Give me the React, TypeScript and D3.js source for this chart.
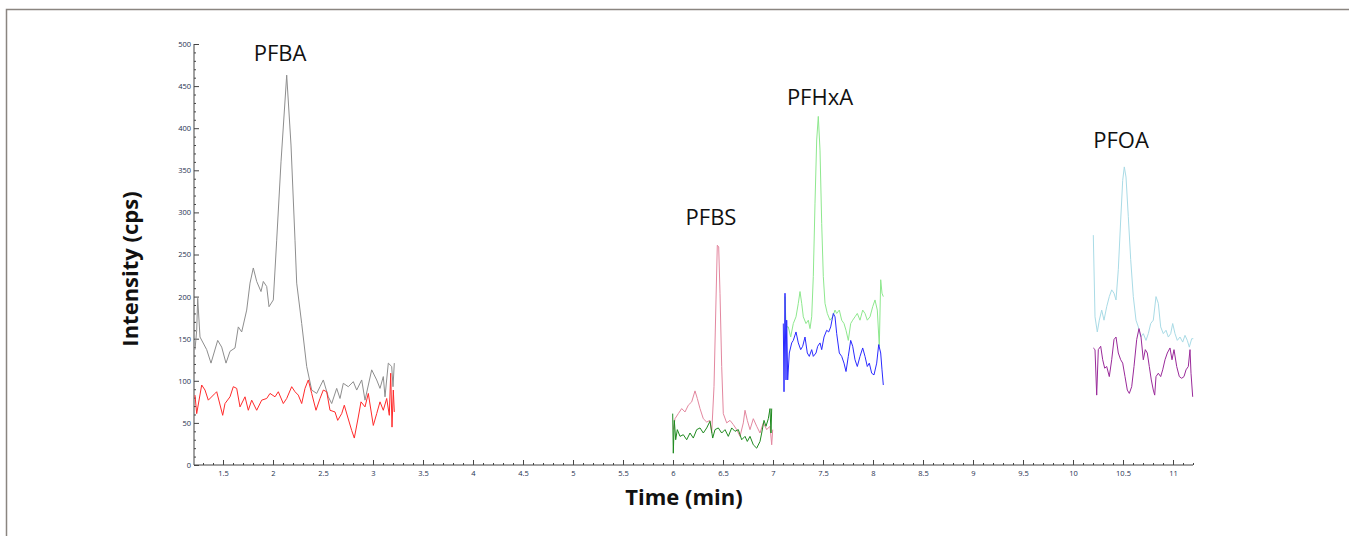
import React, { useEffect, useRef } from 'react';
import * as d3 from 'd3';

// [time (min), intensity (cps)]
const pfbaQuant: [number, number][] = [
  [1.22, 137], [1.237, 160], [1.247, 198], [1.27, 152], [1.337, 137], [1.38, 121], [1.447, 148],
  [1.487, 140], [1.53, 121], [1.57, 135], [1.62, 139], [1.653, 164], [1.687, 158], [1.737, 184],
  [1.77, 216], [1.803, 234], [1.837, 218], [1.88, 206], [1.903, 218], [1.937, 212], [1.96, 188],
  [2.003, 196], [2.037, 267], [2.08, 360], [2.137, 463], [2.18, 380], [2.22, 267], [2.237, 216],
  [2.287, 168], [2.337, 117], [2.387, 89], [2.437, 85], [2.47, 93], [2.503, 101], [2.553, 81],
  [2.587, 73], [2.637, 91], [2.67, 79], [2.703, 97], [2.753, 93], [2.803, 99], [2.837, 89],
  [2.887, 101], [2.92, 77], [2.987, 113], [3.037, 101], [3.07, 91], [3.103, 105], [3.12, 81],
  [3.153, 121], [3.187, 117], [3.2, 93], [3.213, 121],
];
const pfbaQual: [number, number][] = [
  [1.22, 83], [1.237, 61], [1.287, 95], [1.32, 89], [1.353, 77], [1.42, 85], [1.437, 87],
  [1.497, 59], [1.52, 73], [1.57, 81], [1.603, 93], [1.637, 91], [1.67, 69], [1.72, 81],
  [1.753, 65], [1.787, 77], [1.837, 65], [1.887, 77], [1.937, 79], [1.97, 85], [2.02, 81],
  [2.053, 87], [2.103, 73], [2.137, 79], [2.187, 93], [2.22, 87], [2.253, 83], [2.287, 73],
  [2.32, 91], [2.353, 101], [2.387, 85], [2.43, 65], [2.47, 79], [2.503, 89], [2.537, 87],
  [2.57, 65], [2.62, 63], [2.647, 53], [2.687, 61], [2.713, 71], [2.747, 57], [2.787, 41],
  [2.813, 32], [2.853, 57], [2.88, 75], [2.92, 69], [2.953, 85], [3.003, 47], [3.037, 61],
  [3.07, 75], [3.103, 65], [3.137, 79], [3.163, 59], [3.177, 109], [3.19, 45], [3.203, 89],
  [3.213, 63],
];
const pfbsQuant: [number, number][] = [
  [6.003, 42], [6.02, 55], [6.053, 61], [6.087, 67], [6.12, 63], [6.153, 71], [6.187, 75],
  [6.22, 88], [6.243, 79], [6.27, 67], [6.303, 55], [6.337, 51], [6.37, 53], [6.387, 38],
  [6.41, 93], [6.43, 196], [6.443, 261], [6.457, 259], [6.47, 204], [6.487, 117], [6.503, 61],
  [6.537, 50], [6.57, 53], [6.603, 48], [6.637, 42], [6.67, 34], [6.703, 50], [6.72, 65],
  [6.743, 53], [6.77, 42], [6.803, 55], [6.837, 46], [6.87, 38], [6.903, 50], [6.937, 42],
  [6.97, 46], [6.987, 24], [6.997, 42],
];
const pfbsQual: [number, number][] = [
  [5.997, 61], [6.003, 14], [6.013, 53], [6.027, 30], [6.043, 42], [6.07, 34], [6.103, 36],
  [6.137, 30], [6.17, 38], [6.203, 32], [6.237, 42], [6.27, 44], [6.303, 38], [6.337, 44],
  [6.37, 52], [6.397, 32], [6.42, 42], [6.453, 44], [6.487, 38], [6.52, 42], [6.553, 34],
  [6.587, 44], [6.62, 40], [6.653, 42], [6.687, 30], [6.72, 34], [6.743, 28], [6.77, 34],
  [6.803, 24], [6.837, 20], [6.87, 28], [6.887, 38], [6.91, 53], [6.93, 46], [6.953, 55],
  [6.97, 67], [6.98, 38], [6.987, 67],
];
const pfhxaQuant: [number, number][] = [
  [7.12, 200], [7.13, 164], [7.153, 164], [7.177, 152], [7.203, 168], [7.23, 176], [7.253, 192],
  [7.27, 206], [7.287, 192], [7.303, 176], [7.33, 168], [7.353, 172], [7.37, 162], [7.387, 176],
  [7.403, 224], [7.42, 311], [7.437, 386], [7.453, 414], [7.47, 374], [7.487, 287], [7.503, 224],
  [7.52, 192], [7.543, 180], [7.57, 172], [7.597, 176], [7.62, 184], [7.637, 180], [7.663, 184],
  [7.687, 172], [7.71, 168], [7.73, 160], [7.753, 148], [7.777, 168], [7.797, 172], [7.82, 176],
  [7.843, 180], [7.87, 172], [7.897, 184], [7.92, 180], [7.943, 172], [7.97, 176], [7.997, 188],
  [8.02, 196], [8.043, 184], [8.063, 141], [8.077, 220], [8.09, 204], [8.103, 200],
];
const pfhxaQual: [number, number][] = [
  [7.103, 168], [7.11, 87], [7.12, 204], [7.13, 101], [7.137, 172], [7.147, 101], [7.163, 133],
  [7.187, 145], [7.203, 148], [7.23, 158], [7.253, 145], [7.277, 137], [7.297, 141], [7.32, 152],
  [7.343, 133], [7.363, 129], [7.387, 137], [7.403, 129], [7.43, 133], [7.447, 141], [7.47, 145],
  [7.487, 137], [7.51, 152], [7.537, 160], [7.557, 158], [7.577, 164], [7.603, 180], [7.62, 176],
  [7.637, 156], [7.663, 133], [7.687, 129], [7.71, 121], [7.73, 111], [7.753, 129], [7.777, 148],
  [7.797, 141], [7.82, 125], [7.843, 117], [7.87, 129], [7.897, 139], [7.92, 129], [7.943, 117],
  [7.963, 121], [7.987, 109], [8.01, 107], [8.037, 121], [8.057, 143], [8.077, 133], [8.09, 113],
  [8.103, 95],
];
const pfoaQuant: [number, number][] = [
  [10.203, 273], [10.22, 176], [10.243, 158], [10.263, 172], [10.287, 184], [10.31, 172],
  [10.337, 188], [10.363, 200], [10.387, 208], [10.41, 204], [10.43, 196], [10.453, 232],
  [10.477, 291], [10.497, 338], [10.513, 354], [10.53, 342], [10.553, 295], [10.577, 244],
  [10.603, 200], [10.63, 172], [10.653, 164], [10.677, 152], [10.703, 156], [10.73, 148],
  [10.753, 156], [10.777, 168], [10.803, 172], [10.83, 200], [10.853, 192], [10.877, 164],
  [10.903, 156], [10.93, 160], [10.953, 152], [10.977, 156], [10.997, 168], [11.02, 156],
  [11.043, 148], [11.07, 152], [11.097, 146], [11.12, 154], [11.143, 148], [11.163, 140],
  [11.187, 150], [11.203, 150],
];
const pfoaQual: [number, number][] = [
  [10.203, 139], [10.22, 137], [10.237, 83], [10.253, 137], [10.277, 141], [10.297, 125],
  [10.317, 115], [10.337, 117], [10.363, 105], [10.387, 125], [10.41, 149], [10.43, 152],
  [10.453, 133], [10.477, 125], [10.497, 121], [10.52, 105], [10.543, 89], [10.563, 85],
  [10.587, 93], [10.61, 117], [10.637, 149], [10.66, 162], [10.68, 152], [10.703, 125],
  [10.723, 137], [10.743, 133], [10.763, 117], [10.783, 101], [10.803, 89], [10.817, 83],
  [10.83, 105], [10.853, 109], [10.877, 105], [10.897, 113], [10.92, 125], [10.943, 133],
  [10.97, 139], [10.99, 125], [11.01, 137], [11.037, 117], [11.063, 105], [11.087, 103],
  [11.11, 105], [11.13, 113], [11.153, 117], [11.17, 137], [11.18, 109], [11.197, 81],
];

const traces = [
  { name: 'PFBA quant', data: pfbaQuant, color: '#8e8e8e' },
  { name: 'PFBA qual', data: pfbaQual, color: '#ff2a2a' },
  { name: 'PFBS quant', data: pfbsQuant, color: '#e3879f' },
  { name: 'PFBS qual', data: pfbsQual, color: '#1f8a1f' },
  { name: 'PFHxA quant', data: pfhxaQuant, color: '#8ee88e' },
  { name: 'PFHxA qual', data: pfhxaQual, color: '#2a2aff' },
  { name: 'PFOA quant', data: pfoaQuant, color: '#a9dbe6' },
  { name: 'PFOA qual', data: pfoaQual, color: '#9a2a9a' },
];

const peakLabels = ['PFBA', 'PFBS', 'PFHxA', 'PFOA'];
const peakLabelTimes = [2.07, 6.38, 7.47, 10.48];
const peakLabelValues = [480, 285, 428, 376];

const xMajorTicks = [1.5, 2, 2.5, 3, 3.5, 4, 4.5, 5, 5.5, 6, 6.5, 7, 7.5, 8, 8.5, 9, 9.5, 10, 10.5, 11];
const yMajorTicks = [0, 50, 100, 150, 200, 250, 300, 350, 400, 450, 500];

const App = () => {
  const svgRef = useRef<SVGSVGElement | null>(null);

  useEffect(() => {
    const svg = d3.select(svgRef.current);
    svg.selectAll('*').remove();

    const x = d3.scaleLinear().domain([1.21, 11.2]).range([194, 1193]);
    const y = d3.scaleLinear().domain([0, 500]).range([465, 44]);

    // outer frame
    svg.append('path')
      .attr('d', 'M6.5,536 L6.5,9.5 L1349,9.5')
      .attr('fill', 'none')
      .attr('stroke', '#8a8580')
      .attr('stroke-width', 1.5);

    const xMinor = d3.range(13, 113).map(d => d / 10).filter(d => !xMajorTicks.includes(d));
    const yMinor = d3.range(0, 501, 10).filter(d => d % 50 !== 0);

    // minor ticks
    svg.append('g')
      .attr('transform', 'translate(0,465)')
      .call(d3.axisBottom(x).tickValues(xMinor).tickSize(-2).tickFormat(() => ''))
      .call(g => g.select('.domain').remove());
    svg.append('g')
      .attr('transform', 'translate(194,0)')
      .call(d3.axisLeft(y).tickValues(yMinor).tickSize(-2).tickFormat(() => ''))
      .call(g => g.select('.domain').remove());

    // major ticks + labels
    const xAxis = svg.append('g')
      .attr('transform', 'translate(0,465)')
      .call(d3.axisBottom(x).tickValues(xMajorTicks).tickSize(-5).tickPadding(4).tickSizeOuter(0).tickFormat(d3.format('')));
    const yAxis = svg.append('g')
      .attr('transform', 'translate(194,0)')
      .call(d3.axisLeft(y).tickValues(yMajorTicks).tickSize(-5).tickPadding(3).tickSizeOuter(0));

    [xAxis, yAxis].forEach(g => {
      g.selectAll('line').attr('stroke', '#444');
      g.select('.domain').attr('stroke', '#444');
      g.selectAll('text')
        .attr('fill', '#25304f')
        .style('font-family', 'Open Sans')
        .style('font-size', '7.5px');
    });
    xAxis.selectAll('text').attr('dy', '0.9em');
    xAxis.select('.domain').attr('d', 'M194,0H1193');
    yAxis.select('.domain').attr('d', 'M0,465V44');
    svg.selectAll('.tick line').attr('stroke', '#444');

    // chromatogram traces
    const line = d3.line<[number, number]>()
      .x(d => x(d[0]))
      .y(d => y(d[1]));

    svg.append('g')
      .selectAll('path')
      .data(traces)
      .enter()
      .append('path')
      .attr('d', d => line(d.data))
      .attr('fill', 'none')
      .attr('stroke', d => d.color)
      .attr('stroke-width', 1)
      .attr('stroke-linejoin', 'round');

    // peak names
    svg.append('g')
      .selectAll('text')
      .data(peakLabels)
      .enter()
      .append('text')
      .attr('x', (d, i) => x(peakLabelTimes[i]))
      .attr('y', (d, i) => y(peakLabelValues[i]))
      .attr('text-anchor', 'middle')
      .style('font-family', 'Open Sans')
      .style('font-size', '22px')
      .attr('fill', '#111')
      .text(d => d);

    // axis titles
    svg.append('text')
      .attr('x', 684)
      .attr('y', 505)
      .attr('text-anchor', 'middle')
      .style('font-family', 'Open Sans')
      .style('font-size', '22px')
      .style('font-weight', 'bold')
      .attr('fill', '#111')
      .text('Time (min)');

    svg.append('text')
      .attr('transform', 'translate(138,269) rotate(-90)')
      .attr('text-anchor', 'middle')
      .style('font-family', 'Open Sans')
      .style('font-size', '22px')
      .style('font-weight', 'bold')
      .attr('fill', '#111')
      .text('Intensity (cps)');
  }, []);

  return (
    <svg
      ref={svgRef}
      width={1349}
      height={536}
      style={{ position: 'absolute', left: 0, top: 0, background: '#fff' }}
    />
  );
};

export default App;
